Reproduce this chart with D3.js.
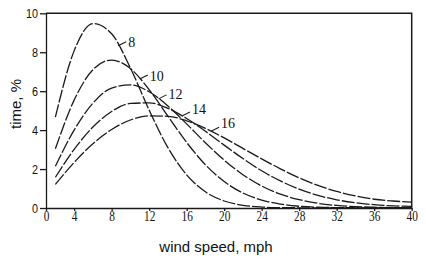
<!DOCTYPE html>
<html lang="en">
<head>
  <meta charset="UTF-8">
  <title>Wind speed distribution</title>
  <script src="https://d3js.org/d3.v7.min.js"></script>
  <style>
    body { margin: 0; background: #fff; }
    svg { display: block; }
    .curve { fill: none; stroke: #1a1a1a; stroke-width: 1.3; stroke-dasharray: 13,2; }
    .frame { fill: none; stroke: #1a1a1a; stroke-width: 1.5; }
    .axis path, .axis line { stroke: #1a1a1a; stroke-width: 1.3; }
    .title { font-family: "Liberation Sans", Arial, sans-serif; font-size: 15px; fill: #111; }
  </style>
</head>
<body>
  <svg width="426" height="265"></svg>

  <script>
    // wind speed, mph (curves start at 2)
    const speeds = [2,4,6,8,10,12,14,16,18,20,22,24,26,28,30,32,34,36,38,40];

    // time, % for each mean speed
    const mean8  = [4.67,8.07,9.47,8.95,7.19,5.03,3.10,1.70,0.83,0.36,0.14,0.05,0.02,0.01,0,0,0,0,0,0];
    const mean10 = [3.04,5.54,7.10,7.60,7.16,6.08,4.72,3.37,2.22,1.36,0.77,0.41,0.20,0.09,0.04,0.02,0.01,0,0,0];
    const mean12 = [2.14,4.00,5.38,6.16,6.32,5.97,5.24,4.32,3.35,2.46,1.71,1.13,0.71,0.43,0.24,0.13,0.07,0.04,0.02,0.01];
    const mean14 = [1.58,3.01,4.16,4.96,5.37,5.40,5.12,4.60,3.94,3.23,2.54,1.91,1.39,0.97,0.65,0.42,0.27,0.17,0.11,0.08];
    const mean16 = [1.21,2.34,3.30,4.03,4.52,4.73,4.71,4.48,4.09,3.60,3.06,2.52,2.01,1.55,1.16,0.85,0.62,0.45,0.36,0.30];

    const seriesNames = ["8","10","12","14","16"];
    const seriesValues = [mean8, mean10, mean12, mean14, mean16];
    // speed where each label's leader line leaves its curve
    const labelAt = [8.7, 11.0, 13.0, 15.5, 18.6];
    // small vertical nudge of each label's baseline
    const labelDy = [1, 2, 0, -2, -3];

    const xTickValues = [1,4,8,12,16,20,24,28,32,36,40];
    const xTickLabels = ["0","4","8","12","16","20","24","28","32","36","40"];
    const yTickValues = [0,2,4,6,8,10];

    const svg = d3.select("svg");
    const margin = {top: 13.3, right: 14.3, bottom: 57, left: 46};
    const width = 426 - margin.left - margin.right;
    const height = 265 - margin.top - margin.bottom;

    const g = svg.append("g").attr("transform", `translate(${margin.left},${margin.top})`);

    const x = d3.scaleLinear().domain([1, 40]).range([0, width]);
    const y = d3.scaleLinear().domain([0, 10]).range([height, 0]);

    const line = d3.line()
      .x(d => x(d[0]))
      .y(d => y(d[1]))
      .curve(d3.curveMonotoneX);

    seriesValues.forEach(vals => {
      g.append("path")
        .attr("class", "curve")
        .attr("d", line(speeds.map((s, i) => [s, vals[i]])));
    });

    // top and right frame
    g.append("path")
      .attr("class", "frame")
      .attr("d", `M0,0H${width}V${height}`);

    const xAxis = g.append("g")
      .attr("class", "axis")
      .attr("transform", `translate(0,${height})`)
      .call(d3.axisBottom(x).tickValues(xTickValues).tickSize(3).tickSizeOuter(0)
        .tickFormat((d, i) => xTickLabels[i]));
    xAxis.selectAll("text")
      .attr("dy", "0.62em")
      .attr("y", 4)
      .attr("transform", "scale(0.78,1)")
      .style("font-family", "'Liberation Serif', 'Times New Roman', serif")
      .style("font-size", "14.5px")
      .attr("fill", "#111");

    const yAxis = g.append("g")
      .attr("class", "axis")
      .call(d3.axisLeft(y).tickValues(yTickValues).tickSize(6).tickSizeOuter(0));
    yAxis.selectAll("text")
      .attr("x", -10)
      .style("font-family", "'Liberation Sans', Arial, sans-serif")
      .style("font-size", "13.5px")
      .attr("fill", "#111")
      .attr("transform", "scale(0.8,1)");

    // curve labels with short leader lines
    seriesNames.forEach((name, k) => {
      const s = labelAt[k];
      const i = d3.bisectLeft(speeds, s);
      const t = (s - speeds[i - 1]) / (speeds[i] - speeds[i - 1]);
      const v = seriesValues[k][i - 1] + t * (seriesValues[k][i] - seriesValues[k][i - 1]);
      const px = x(s), py = y(v);
      g.append("line")
        .attr("x1", px).attr("y1", py)
        .attr("x2", px + 8).attr("y2", py - 4)
        .attr("stroke", "#1a1a1a").attr("stroke-width", 1.1);
      g.append("text")
        .attr("x", px + 10).attr("y", py + labelDy[k])
        .style("font-family", "'Liberation Serif', 'Times New Roman', serif")
        .style("font-size", "14px")
        .attr("fill", "#111")
        .text(name);
    });

    svg.append("text")
      .attr("class", "title")
      .attr("x", 216).attr("y", 252)
      .attr("text-anchor", "middle")
      .text("wind speed, mph");

    svg.append("text")
      .attr("class", "title")
      .attr("transform", "translate(21,104) rotate(-90)")
      .attr("text-anchor", "middle")
      .text("time, %");
  </script>
</body>
</html>
